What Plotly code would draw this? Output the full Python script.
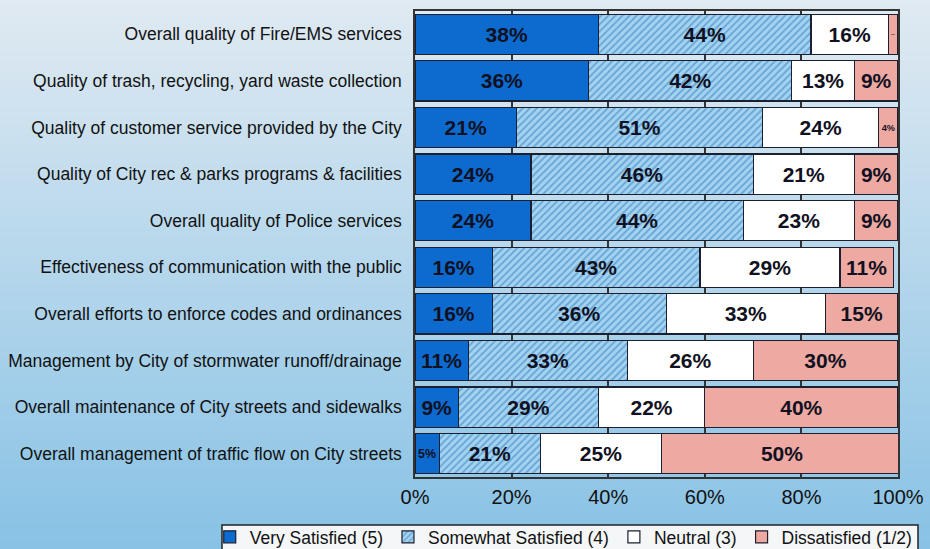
import plotly.graph_objects as go

# Survey items, top to bottom
categories = [
    "Overall quality of Fire/EMS services",
    "Quality of trash, recycling, yard waste collection",
    "Quality of customer service provided by the City",
    "Quality of City rec & parks programs & facilities",
    "Overall quality of Police services",
    "Effectiveness of communication with the public",
    "Overall efforts to enforce codes and ordinances",
    "Management by City of stormwater runoff/drainage",
    "Overall maintenance of City streets and sidewalks",
    "Overall management of traffic flow on City streets",
]

very_satisfied = [38, 36, 21, 24, 24, 16, 16, 11, 9, 5]
somewhat_satisfied = [44, 42, 51, 46, 44, 43, 36, 33, 29, 21]
neutral = [16, 13, 24, 21, 23, 29, 33, 26, 22, 25]
dissatisfied = [2, 9, 4, 9, 9, 11, 15, 30, 40, 50]

series_names = ["Very Satisfied (5)", "Somewhat Satisfied (4)", "Neutral (3)", "Dissatisfied (1/2)"]
tick_values = [0, 20, 40, 60, 80, 100]
tick_labels = ["0%", "20%", "40%", "60%", "80%", "100%"]

FONT = "Liberation Sans, Arial, sans-serif"
EDGE = dict(color="#1b1f2e", width=1.2)
LABEL_FONT = dict(family=FONT, size=21, color="#111122", weight="bold")

fig = go.Figure()

styles = [
    dict(color="#0d6bd0"),
    dict(color="#a4d3f0", pattern=dict(shape="/", fgcolor="#2a78bd", size=5, solidity=0.35)),
    dict(color="#ffffff"),
    dict(color="#eeaaa2"),
]

for name, vals, style in zip(series_names,
                             [very_satisfied, somewhat_satisfied, neutral, dissatisfied],
                             styles):
    fig.add_trace(go.Bar(
        name=name,
        y=categories,
        x=vals,
        orientation="h",
        marker=dict(line=EDGE, **style),
        text=[f"{v}%" for v in vals],
        textposition="inside",
        insidetextanchor="middle",
        textangle=0,
        textfont=LABEL_FONT,
        hoverinfo="skip",
    ))

# Soft vertical gradient behind the whole figure
top_rgb = (224, 234, 242)
bottom_rgb = (136, 194, 229)
n_bands = 60
shapes = []
y_lo, y_hi = -0.16, 1.03
for i in range(n_bands):
    t = i / (n_bands - 1)
    r = round(top_rgb[0] + (bottom_rgb[0] - top_rgb[0]) * t)
    g = round(top_rgb[1] + (bottom_rgb[1] - top_rgb[1]) * t)
    b = round(top_rgb[2] + (bottom_rgb[2] - top_rgb[2]) * t)
    y1 = y_hi - (y_hi - y_lo) * i / n_bands
    y0 = y_hi - (y_hi - y_lo) * (i + 1) / n_bands
    shapes.append(dict(
        type="rect", xref="paper", yref="paper",
        x0=-0.9, x1=1.1, y0=y0 - 0.002, y1=y1 + 0.002,
        fillcolor=f"rgb({r},{g},{b})", line=dict(width=0), layer="below",
    ))

# Framed box holding the legend, running off the bottom edge
shapes.append(dict(
    type="rect", xref="paper", yref="paper",
    x0=-0.3996, x1=1.0414, y0=-0.18, y1=-0.103,
    fillcolor="#f4f6f8", line=dict(color="#222222", width=1.5), layer="below",
))

fig.update_layout(
    barmode="stack",
    width=930, height=549,
    margin=dict(l=415, r=32, t=11, b=72, autoexpand=False),
    paper_bgcolor="rgb(200,222,238)",
    plot_bgcolor="#f7f7f7",
    bargap=0.14,
    shapes=shapes,
    font=dict(family=FONT, color="#111111"),
    showlegend=True,
    legend=dict(
        orientation="h",
        x=-0.425, xanchor="left",
        y=-0.090, yanchor="top",
        bgcolor="rgba(0,0,0,0)",
        borderwidth=0,
        font=dict(family=FONT, size=17.5, color="#111111"),
        itemwidth=30,
        traceorder="normal",
    ),
)

fig.update_xaxes(
    range=[0, 100],
    tickvals=tick_values,
    ticktext=tick_labels,
    tickfont=dict(family=FONT, size=20, color="#111111"),
    showgrid=True, gridcolor="#333333", gridwidth=1.5,
    showline=True, linecolor="#333333", linewidth=1.5, mirror=True,
    zeroline=False,
    ticks="",
    ticklabelstandoff=1,
)

fig.update_yaxes(
    categoryorder="array",
    categoryarray=categories,
    autorange="reversed",
    tickfont=dict(family=FONT, size=17.5, color="#111111"),
    showline=True, linecolor="#333333", linewidth=1.5, mirror=True,
    ticks="",
    ticklabelstandoff=8,
)

fig.write_html("out.html")
